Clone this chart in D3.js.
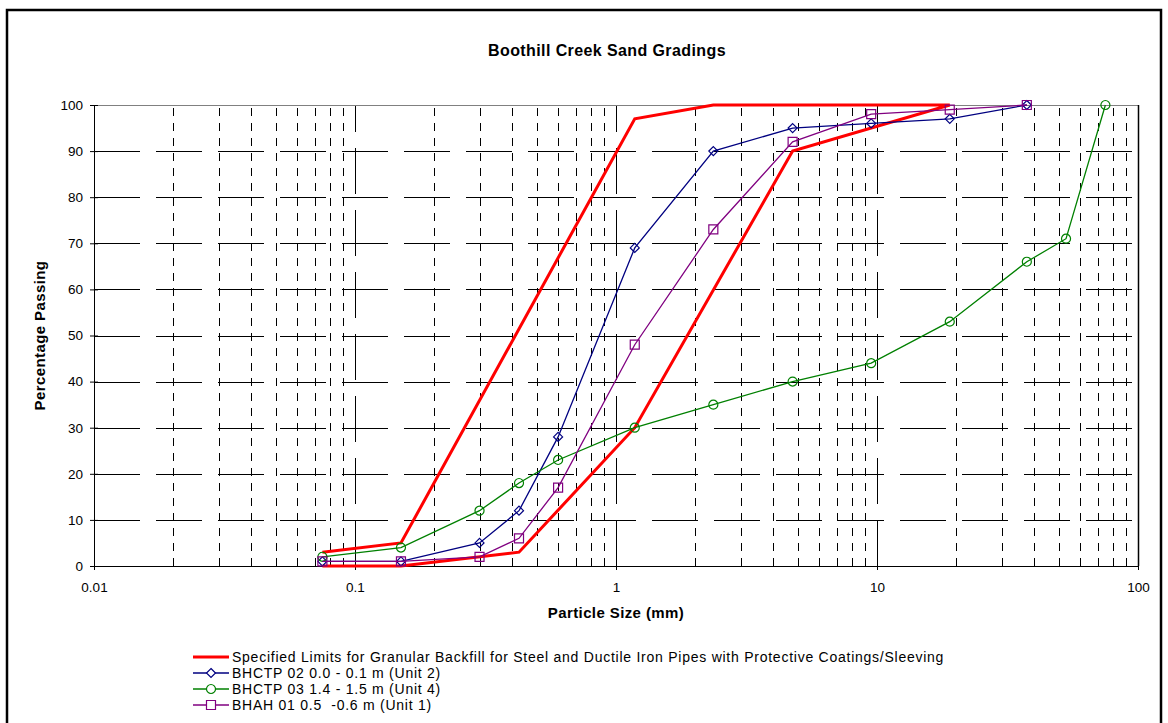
<!DOCTYPE html>
<html lang="en">
<head>
<meta charset="utf-8">
<title>Boothill Creek Sand Gradings</title>
<script src="https://d3js.org/d3.v7.min.js"></script>
<style>
  body { margin: 0; background: #fff; }
  svg { font-family: "Liberation Sans", Arial, sans-serif; }
  .axis text { font-size: 13.5px; fill: #000; }
  .axis path, .axis line { stroke: #000; }
  .grid-h line { stroke: #000; stroke-width: 1; stroke-dasharray: 46 16; }
  .grid-major line { stroke: #000; stroke-width: 1; stroke-dasharray: 46 16; }
  .grid-minor line { stroke: #000; stroke-width: 1; stroke-dasharray: 8 7; }
  .legend text { font-size: 14px; letter-spacing: 0.75px; fill: #000; white-space: pre; }
  .title { font-size: 16px; font-weight: bold; letter-spacing: 0.4px; }
  .axis-title { font-size: 15px; font-weight: bold; letter-spacing: 0.4px; }
</style>
</head>
<body>
<script>
// ---- data ----
const xTicks = [0.01, 0.1, 1, 10, 100];
const yTicks = [0, 10, 20, 30, 40, 50, 60, 70, 80, 90, 100];

// red envelope, drawn as one path (upper limit then back down the lower limit)
const limitSizes   = [0.075, 0.15, 1.18, 2.36, 19, 4.75, 1.18, 0.425, 0.15, 0.075];
const limitPassing = [3, 5, 97, 100, 100, 90, 30, 3, 0, 0];

const bhctp02Sizes   = [0.075, 0.15, 0.3, 0.425, 0.6, 1.18, 2.36, 4.75, 9.5, 19, 37.5];
const bhctp02Passing = [1, 1, 5, 12, 28, 69, 90, 95, 96, 97, 100];

const bhctp03Sizes   = [0.075, 0.15, 0.3, 0.425, 0.6, 1.18, 2.36, 4.75, 9.5, 19, 37.5, 53, 75];
const bhctp03Passing = [2, 4, 12, 18, 23, 30, 35, 40, 44, 53, 66, 71, 100];

const bhah01Sizes   = [0.075, 0.15, 0.3, 0.425, 0.6, 1.18, 2.36, 4.75, 9.5, 19, 37.5];
const bhah01Passing = [1, 1, 2, 6, 17, 48, 73, 92, 98, 99, 100];

const seriesNames = [
  "Specified Limits for Granular Backfill for Steel and Ductile Iron Pipes with Protective Coatings/Sleeving",
  "BHCTP 02 0.0 - 0.1 m (Unit 2)",
  "BHCTP 03 1.4 - 1.5 m (Unit 4)",
  "BHAH 01 0.5  -0.6 m (Unit 1)"
];

const W = 1168, H = 723;
const plotL = 94, plotR = 1138, plotT = 105, plotB = 566;

const svg = d3.select("body").append("svg")
  .attr("width", W).attr("height", H);

// chart frame
svg.append("rect")
  .attr("x", 7).attr("y", 10)
  .attr("width", 1154).attr("height", 730)
  .attr("fill", "#fff").attr("stroke", "#000").attr("stroke-width", 2.5);

const x = d3.scaleLog().domain([0.01, 100]).range([plotL, plotR]);
const y = d3.scaleLinear().domain([0, 100]).range([plotB, plotT]);

// minor vertical grid (2..9 in each decade)
const minor = [];
xTicks.slice(0, -1).forEach(d => { for (let k = 2; k <= 9; k++) minor.push(d * k); });
svg.append("g").attr("class", "grid-minor")
  .selectAll("line").data(minor).join("line")
  .attr("x1", d => Math.round(x(d)) + 0.5).attr("x2", d => Math.round(x(d)) + 0.5)
  .attr("y1", plotB).attr("y2", plotT);

// major vertical grid
svg.append("g").attr("class", "grid-major")
  .selectAll("line").data(xTicks.slice(1, -1)).join("line")
  .attr("x1", d => Math.round(x(d)) + 0.5).attr("x2", d => Math.round(x(d)) + 0.5)
  .attr("y1", plotB).attr("y2", plotT);

// horizontal grid
svg.append("g").attr("class", "grid-h")
  .selectAll("line").data(yTicks.slice(1, -1)).join("line")
  .attr("x1", plotL).attr("x2", plotR)
  .attr("y1", d => Math.round(y(d)) + 0.5).attr("y2", d => Math.round(y(d)) + 0.5);

// plot area border: grey top, dark right
svg.append("line").attr("x1", plotL).attr("x2", plotR).attr("y1", plotT + 0.5).attr("y2", plotT + 0.5)
  .attr("stroke", "#808080");
svg.append("line").attr("x1", plotR + 0.5).attr("x2", plotR + 0.5).attr("y1", plotT).attr("y2", plotB)
  .attr("stroke", "#000").attr("stroke-width", 1.5);

// axes
const xAxis = svg.append("g").attr("class", "axis")
  .attr("transform", `translate(0,${plotB})`)
  .call(d3.axisBottom(x).tickValues(xTicks).tickFormat(d3.format("~g")).tickSize(4).tickPadding(12));
xAxis.selectAll(".tick line").attr("y1", -4);
xAxis.select(".domain").attr("d", `M${plotL},0.5H${plotR}`);

const yAxis = svg.append("g").attr("class", "axis")
  .attr("transform", `translate(${plotL},0)`)
  .call(d3.axisLeft(y).tickValues(yTicks).tickSize(4).tickPadding(7));
yAxis.selectAll(".tick line").attr("x1", 4);
yAxis.select(".domain").attr("d", `M0.5,${plotT}V${plotB}`);

// axis titles
svg.append("text").attr("class", "axis-title")
  .attr("x", 616).attr("y", 618)
  .attr("text-anchor", "middle")
  .text("Particle Size (mm)");

svg.append("text").attr("class", "axis-title")
  .attr("transform", `translate(45,${(plotT + plotB) / 2}) rotate(-90)`)
  .attr("text-anchor", "middle")
  .text("Percentage Passing");

svg.append("text").attr("class", "title")
  .attr("x", 607).attr("y", 56)
  .attr("text-anchor", "middle")
  .text("Boothill Creek Sand Gradings");

// series
const zip = (xs, ys) => xs.map((v, i) => ({ size: v, pass: ys[i] }));
const line = d3.line().x(d => x(d.size)).y(d => y(d.pass));

const series = [
  { data: zip(limitSizes, limitPassing), color: "#ff0000", width: 3, marker: null },
  { data: zip(bhctp02Sizes, bhctp02Passing), color: "#000080", width: 1.3, marker: "diamond" },
  { data: zip(bhctp03Sizes, bhctp03Passing), color: "#008000", width: 1.3, marker: "circle" },
  { data: zip(bhah01Sizes, bhah01Passing), color: "#800080", width: 1.3, marker: "square" }
];

const markerPath = {
  diamond: "M0,-4.5L4.5,0L0,4.5L-4.5,0Z",
  circle: d3.symbol(d3.symbolCircle, 64)(),
  square: "M-4.5,-4.5H4.5V4.5H-4.5Z"
};

series.forEach(s => {
  svg.append("path")
    .datum(s.data)
    .attr("fill", "none")
    .attr("stroke", s.color)
    .attr("stroke-width", s.width)
    .attr("stroke-linejoin", "miter")
    .attr("d", line);
  if (s.marker) {
    svg.append("g").selectAll("path").data(s.data).join("path")
      .attr("transform", d => `translate(${x(d.size)},${y(d.pass)})`)
      .attr("d", markerPath[s.marker])
      .attr("fill", "none")
      .attr("stroke", s.color)
      .attr("stroke-width", 1.2);
  }
});

// legend
const legend = svg.append("g").attr("class", "legend");
series.forEach((s, i) => {
  const ly = 657 + i * 16;
  const g = legend.append("g").attr("transform", `translate(193,${ly})`);
  g.append("line").attr("x1", 0).attr("x2", 36).attr("y1", 0).attr("y2", 0)
    .attr("stroke", s.color).attr("stroke-width", s.width);
  if (s.marker) {
    g.append("path").attr("transform", "translate(18,0)")
      .attr("d", markerPath[s.marker])
      .attr("fill", "#fff").attr("stroke", s.color).attr("stroke-width", 1.2);
  }
  g.append("text").attr("x", 39).attr("y", 0).attr("dy", "0.35em").text(seriesNames[i]);
});
</script>
</body>
</html>
